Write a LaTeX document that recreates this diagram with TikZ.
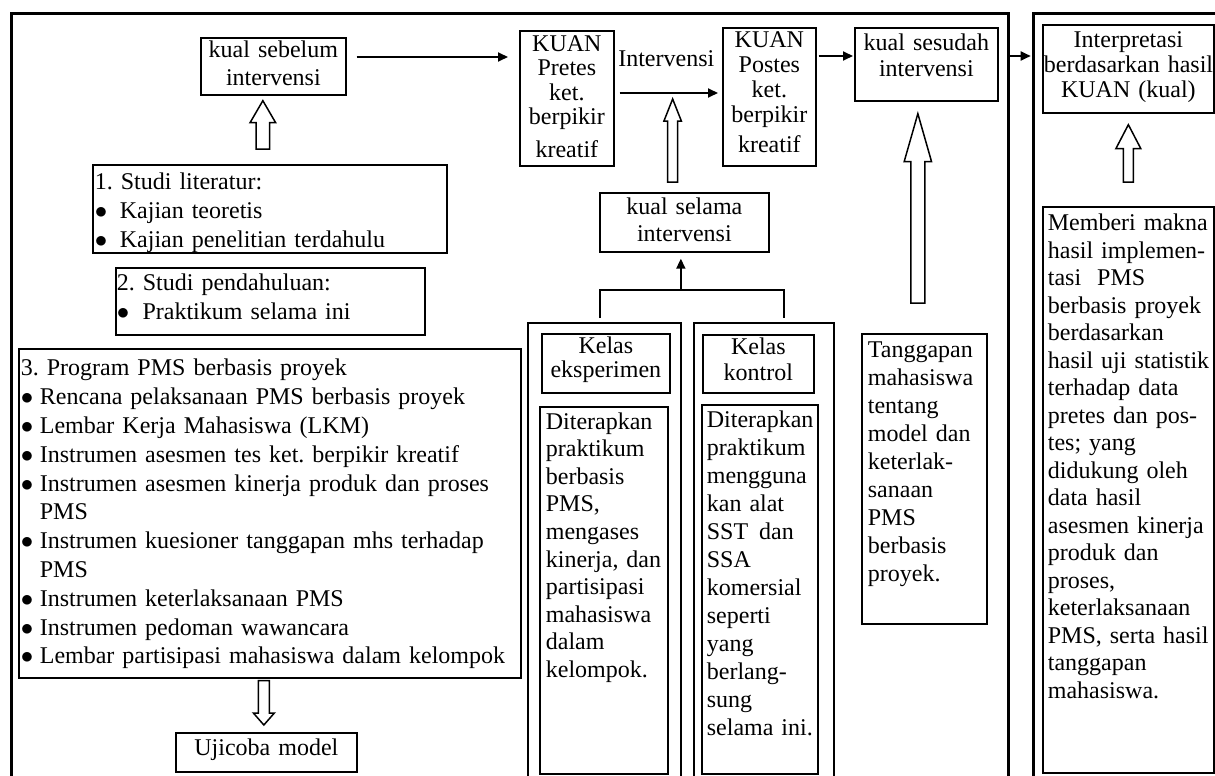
\documentclass[tikz,border=0pt]{standalone}
\usepackage{fontspec}
\setmainfont{Liberation Serif}
\usetikzlibrary{arrows.meta,calc}
\hyphenpenalty=10000
\exhyphenpenalty=10000
\frenchspacing
\newcommand{\itembul}[1]{\makebox[#1][l]{$\bullet$}}
\newcommand{\blockarrow}[5]{%
  \draw[hollow] let \p1=(#1), \p2=(#2), \n1={ifthenelse(\y2>\y1,1,-1)} in
  (\x2-#3,\y1) -- (\x2-#3,\y2-\n1*#5) -- (\x2-#4,\y2-\n1*#5) -- (\x2,\y2)
  -- (\x2+#4,\y2-\n1*#5) -- (\x2+#3,\y2-\n1*#5) -- (\x2+#3,\y1) -- cycle;}
\tikzset{
  fnt/.style={font={\fontsize{24}{#1}\selectfont}},
  bx/.style={draw, line width=1.7pt, anchor=north west, inner ysep=0pt, inner xsep=0pt},
  bxe/.style={draw, line width=1.7pt, anchor=north west, inner sep=0pt},
  frm/.style={draw, line width=2.7pt, anchor=north west, inner sep=0pt},
  arr/.style={line width=1.8pt, -{Triangle[length=10pt,width=9pt]}},
  ln/.style={line width=1.8pt},
  hollow/.style={draw, line width=1.5pt, fill=white, line join=miter}
}
\begin{document}
\begin{tikzpicture}[x=1pt,y=-1pt]
\useasboundingbox (0,0) rectangle (1215,776);
\clip (0,0) rectangle (1215,776);
\fill[white] (0,0) rectangle (1215,776);

% frames
\node[frm, minimum width=997pt, minimum height=800pt] (mainframe) at (10,12) {};
\node[frm, minimum width=220pt, minimum height=800pt] (rframe) at (1032,12) {};

% top row
\node[bx, fnt=28, align=center, text width=145pt, text height=20pt, text depth=37pt] (sebelum) at (200,37) {kual sebelum\\intervensi};
\node[bx, fnt=24.3, align=center, text width=94pt, text height=20.7pt, text depth=114.3pt] (pretes) at (519,30) {KUAN\\Pretes\\ket.\\berpikir\\[8.5pt]kreatif};
\node[bx, fnt=25, align=center, text width=93pt, text height=19.7pt, text depth=118.3pt] (postes) at (722,27) {KUAN\\Postes\\ket.\\berpikir\\[5pt]kreatif};
\node[bx, fnt=26.7, align=center, text width=143pt, text height=22.3pt, text depth=50.7pt] (sesudah) at (854,27) {kual sesudah\\intervensi};
\node[bx, fnt=25, align=center, inner xsep=1pt, text width=169pt, text height=22.7pt, text depth=65.3pt] (interp) at (1042,24) {Interpretasi\\berdasarkan~hasil\\KUAN (kual)};
\node[fnt=28, anchor=base, inner sep=0pt] (ivlabel) at (666.3,66.7) {Intervensi};

% left column
\node[bx, fnt=29, align=left, inner xsep=2pt, text width=350pt, text height=24.3pt, text depth=63.7pt] (lit) at (92,164) {1. Studi literatur:\\\itembul{25pt}Kajian teoretis\\\itembul{25pt}Kajian penelitian terdahulu};
\node[bx, fnt=28.3, align=left, inner xsep=1pt, text width=307pt, text height=23pt, text depth=44pt] (pend) at (115,267) {2. Studi pendahuluan:\\\itembul{25.7pt}Praktikum selama ini};
\node[bx, fnt=28.8, align=left, inner xsep=2pt, text width=498pt, text height=27pt, text depth=302pt] (prog) at (18,348) {3. Program PMS berbasis proyek\\
\itembul{19pt}Rencana pelaksanaan PMS berbasis proyek\\
\itembul{19pt}Lembar Kerja Mahasiswa (LKM)\\
\itembul{19pt}Instrumen asesmen tes ket. berpikir kreatif\\
\itembul{19pt}Instrumen asesmen kinerja produk dan proses\\
\hspace*{19pt}PMS\\
\itembul{19pt}Instrumen kuesioner tanggapan mhs terhadap\\
\hspace*{19pt}PMS\\
\itembul{19pt}Instrumen keterlaksanaan PMS\\
\itembul{19pt}Instrumen pedoman wawancara\\
\itembul{19pt}Lembar partisipasi mahasiswa dalam kelompok};
\node[bx, fnt=28, align=center, text width=181pt, text height=23pt, text depth=16pt] (ujicoba) at (175,732) {Ujicoba model};

% middle
\node[bx, fnt=27.4, align=center, text width=169pt, text height=21.3pt, text depth=37.7pt] (selama) at (599,192) {kual selama\\intervensi};
\node[bxe, minimum width=153pt, minimum height=480pt] (expout) at (527,322) {};
\node[bxe, minimum width=140pt, minimum height=480pt] (konout) at (693,322) {};
\node[bx, fnt=24, align=center, text width=128pt, text height=19.7pt, text depth=39.3pt] (explab) at (541,333) {Kelas\\eksperimen};
\node[bx, fnt=26, align=center, text width=111pt, text height=20pt, text depth=38pt] (konlab) at (702,334) {Kelas\\kontrol};
\node[bx, fnt=27.6, align=left, inner xsep=6pt, text width=116pt, text height=22.3pt, text depth=344.7pt] (expbody) at (539,406) {Diterapkan\\praktikum\\berbasis\\PMS,\\mengases\\kinerja,\nobreak\hspace{8pt}dan\\partisipasi\\mahasiswa\\dalam\\kelompok.};
\node[bx, fnt=28, align=left, inner xsep=5pt, text width=106pt, text height=23pt, text depth=346pt] (konbody) at (701,404) {Diterapkan\\praktikum\\mengguna\\kan~alat\\SST\nobreak\hspace{11pt}dan\\SSA\\komersial\\seperti\\yang\\berlang-\\sung\\selama~ini.};
\node[bx, fnt=27.9, align=left, inner xsep=6pt, text width=113pt, text height=24pt, text depth=266pt] (tangg) at (861,333) {Tanggapan\\mahasiswa\\tentang\\model~dan\\keterlak-\\sanaan\\PMS\\berbasis\\proyek.};
\node[bx, fnt=27.5, align=left, inner xsep=5pt, text width=161pt, text height=24pt, text depth=542pt] (memberi) at (1042,206) {Memberi~makna\\hasil~implemen-\\tasi~~PMS\\berbasis~proyek\\berdasarkan\\hasil~uji~statistik\\terhadap~data\\pretes~dan~pos-\\tes;~yang\\didukung~oleh\\data~hasil\\asesmen~kinerja\\produk~dan\\proses,\\keterlaksanaan\\PMS,~serta~hasil\\tanggapan\\mahasiswa.};

% solid connectors
\draw[arr, shorten <=10pt, shorten >=11pt] (sebelum.east |- 0,57) -- (pretes.west |- 0,57);
\draw[arr, shorten <=5pt, shorten >=4pt] (pretes.east |- 0,93) -- coordinate[pos=0.54] (ivmid) (postes.west |- 0,93);
\draw[arr, shorten <=2pt, shorten >=1pt] (postes.east |- 0,56) -- (sesudah.west |- 0,56);
\draw[arr, shorten >=1.3pt] (mainframe.east |- 0,56) -- (rframe.west |- 0,56);
\draw[ln] ([xshift=-4.5pt,yshift=4pt]expout.north) -- ++(0,-28) coordinate (brkl) -| ([xshift=20pt,yshift=4pt]konout.north);
\draw[arr] ([xshift=-3.5pt]selama.south |- brkl) -- ([xshift=-3.5pt,yshift=-6pt]selama.south);

% hollow block arrows
\blockarrow{[yshift=15pt]lit.north}{[xshift=-10.5pt,yshift=-5pt]sebelum.south}{6.7pt}{12.8pt}{22pt}
\blockarrow{[yshift=-2pt]prog.south}{[xshift=-2.5pt,yshift=7pt]ujicoba.north}{5.5pt}{10.5pt}{12pt}
\blockarrow{[yshift=10pt]selama.north}{[yshift=-6pt]ivmid}{5pt}{8.7pt}{22pt}
\blockarrow{[yshift=30pt]tangg.north}{[xshift=-8.5pt,yshift=-12pt]sesudah.south}{7pt}{13.7pt}{48pt}
\blockarrow{[yshift=24pt]memberi.north}{[yshift=-11pt]interp.south}{5pt}{12.5pt}{24pt}
\end{tikzpicture}
\end{document}
